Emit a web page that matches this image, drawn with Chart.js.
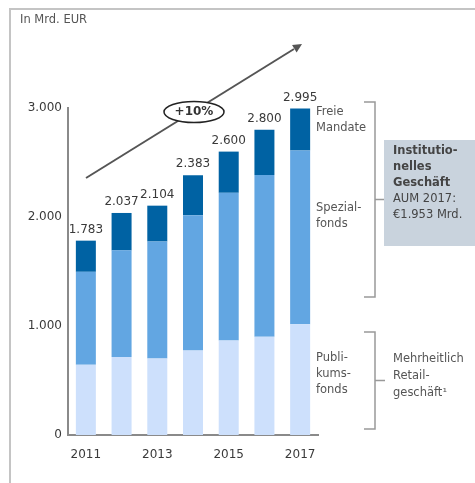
<!DOCTYPE html>
<html>
<head>
<meta charset="utf-8">
<script src="https://cdn.jsdelivr.net/npm/chart.js@4"></script>
<style>
    body { margin: 0; background: #fff; }
</style>
</head>
<body>
<canvas id="aumGrafiks" width="475" height="483"></canvas>
<script>
// Dati nolasīti no attēla (Mrd. EUR)
const jahre = ['2011', '2012', '2013', '2014', '2015', '2016', '2017'];
const publikumsfonds = [645, 716, 701, 775, 868, 901, 1016];
const spezialfonds = [852, 978, 1074, 1241, 1354, 1485, 1595];
const freieMandate = [286, 343, 329, 367, 378, 414, 384];
const summen = [1783, 2037, 2104, 2383, 2600, 2800, 2995];
const yTicks = [0, 1000, 2000, 3000];

const fonts = 'DejaVu Sans, sans-serif';
const krasas = {
    teksts: '#3a3a3a',
    peleks: '#555',
    ass: '#8a8a8a',
    ramis: '#c4c4c4',
    tumss: '#0062a3',
    videjs: '#62a6e2',
    gaiss: '#cde0fc',
    kaste: '#c9d3dd'
};

// tūkstošu atdalītājs ar punktu
const formats = v => String(v).replace(/\B(?=(\d{3})+(?!\d))/g, '.');

function rakstit(ctx, rindas, x, y, solis) {
    rindas.forEach((r, i) => ctx.fillText(r, x, y + i * solis));
}

// Viss papildus zīmējums: rāmis, vērtības, bulta, iekavas
const piezimes = {
    id: 'piezimes',
    afterDatasetsDraw(chart) {
        const ctx = chart.ctx;
        const y = chart.scales.y;
        ctx.save();

        // rāmis (augša un kreisā mala)
        ctx.strokeStyle = krasas.ramis;
        ctx.lineWidth = 2;
        ctx.beginPath();
        ctx.moveTo(10, 483);
        ctx.lineTo(10, 9);
        ctx.lineTo(475, 9);
        ctx.stroke();

        ctx.fillStyle = krasas.peleks;
        ctx.font = '11.5px ' + fonts;
        ctx.textAlign = 'left';
        ctx.textBaseline = 'middle';
        ctx.fillText('In Mrd. EUR', 20, 20);

        // summas virs stabiem
        ctx.fillStyle = krasas.teksts;
        ctx.font = '12px ' + fonts;
        ctx.textAlign = 'center';
        const meta = chart.getDatasetMeta(2);
        summen.forEach((s, i) => {
            ctx.fillText(formats(s), meta.data[i].x, y.getPixelForValue(s) - 11);
        });

        // pieauguma bulta
        ctx.strokeStyle = '#555';
        ctx.fillStyle = '#555';
        ctx.lineWidth = 2;
        ctx.beginPath();
        ctx.moveTo(86, 178);
        ctx.lineTo(294, 49);
        ctx.stroke();
        const ang = Math.atan2(45 - 178, 301 - 86);
        ctx.beginPath();
        ctx.moveTo(302, 44);
        ctx.lineTo(302 - 10 * Math.cos(ang - 0.45), 44 - 10 * Math.sin(ang - 0.45));
        ctx.lineTo(302 - 10 * Math.cos(ang + 0.45), 44 - 10 * Math.sin(ang + 0.45));
        ctx.closePath();
        ctx.fill();

        // +10% ovāls
        ctx.beginPath();
        ctx.ellipse(194, 112, 30, 10.5, 0, 0, Math.PI * 2);
        ctx.fillStyle = '#fff';
        ctx.fill();
        ctx.strokeStyle = '#222';
        ctx.lineWidth = 1.5;
        ctx.stroke();
        ctx.fillStyle = '#333';
        ctx.font = 'bold 12px ' + fonts;
        ctx.fillText('+10%', 194, 112);

        // sēriju nosaukumi
        ctx.fillStyle = krasas.peleks;
        ctx.font = '11.5px ' + fonts;
        ctx.textAlign = 'left';
        rakstit(ctx, ['Freie', 'Mandate'], 316, 112, 16);
        rakstit(ctx, ['Spezial-', 'fonds'], 316, 208, 16);
        rakstit(ctx, ['Publi-', 'kums-', 'fonds'], 316, 358, 16);

        // iekavas
        ctx.strokeStyle = '#999';
        ctx.lineWidth = 1.5;
        [[102, 297], [332, 429]].forEach(([a, b]) => {
            ctx.beginPath();
            ctx.moveTo(364, a);
            ctx.lineTo(375, a);
            ctx.lineTo(375, b);
            ctx.lineTo(364, b);
            ctx.moveTo(375, (a + b) / 2);
            ctx.lineTo(385, (a + b) / 2);
            ctx.stroke();
        });

        // pelēkā kaste
        ctx.fillStyle = krasas.kaste;
        ctx.fillRect(384, 140, 91, 106);
        ctx.fillStyle = '#444';
        ctx.font = 'bold 11.5px ' + fonts;
        rakstit(ctx, ['Institutio-', 'nelles', 'Geschäft'], 393, 151, 16);
        ctx.font = '11.5px ' + fonts;
        rakstit(ctx, ['AUM 2017:', '€1.953 Mrd.'], 393, 199, 16.5);

        ctx.fillStyle = krasas.peleks;
        rakstit(ctx, ['Mehrheitlich', 'Retail-', 'geschäft¹'], 393, 359, 17);

        ctx.restore();
    }
};

new Chart(document.getElementById('aumGrafiks'), {
    type: 'bar',
    data: {
        labels: jahre,
        datasets: [
            { label: 'Publikumsfonds', data: publikumsfonds, backgroundColor: krasas.gaiss },
            { label: 'Spezialfonds', data: spezialfonds, backgroundColor: krasas.videjs },
            { label: 'Freie Mandate', data: freieMandate, backgroundColor: krasas.tumss }
        ]
    },
    options: {
        responsive: false,
        animation: false,
        layout: { padding: { top: 108, right: 157, left: 0, bottom: 0 } },
        datasets: { bar: { categoryPercentage: 0.8, barPercentage: 0.7 } },
        plugins: {
            legend: { display: false },
            tooltip: { enabled: false }
        },
        scales: {
            x: {
                stacked: true,
                grid: { display: false, drawTicks: false },
                border: { display: true, color: krasas.ass, width: 2 },
                ticks: {
                    autoSkip: false,
                    maxRotation: 0,
                    padding: 13,
                    color: krasas.teksts,
                    font: { family: fonts, size: 12 },
                    callback: (v, i) => (i % 2 === 0 ? jahre[i] : '')
                },
                afterFit: s => { s.height = 48; }
            },
            y: {
                stacked: true,
                min: 0,
                max: 3000,
                grid: { display: false, drawTicks: false },
                border: { display: true, color: krasas.ass, width: 2 },
                afterBuildTicks: s => { s.ticks = yTicks.map(v => ({ value: v })); },
                ticks: {
                    padding: 6,
                    color: krasas.teksts,
                    font: { family: fonts, size: 12 },
                    callback: v => formats(v)
                },
                afterFit: s => { s.width = 68; }
            }
        }
    },
    plugins: [piezimes]
});
</script>
</body>
</html>
